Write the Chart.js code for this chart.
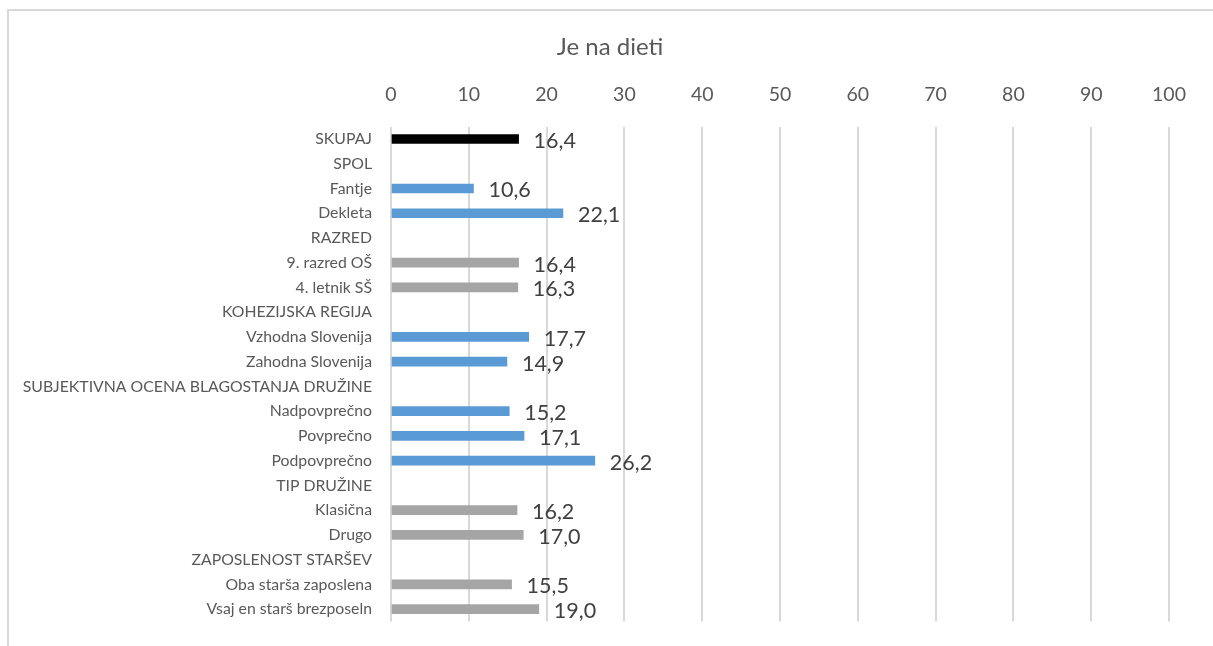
<!DOCTYPE html>
<html>
<head>
<meta charset="utf-8">
<script src="https://cdn.jsdelivr.net/npm/chart.js@4/dist/chart.umd.min.js"></script>
<style>
  html, body { margin: 0; padding: 0; background: #fff; overflow: hidden; }
  #wrap { position: relative; width: 1213px; height: 646px; overflow: hidden; }
  #frame { position: absolute; left: 7px; top: 9px; width: 1300px; height: 700px; border-left: 2px solid #d9d9d9; border-top: 2px solid #d9d9d9; box-sizing: border-box; }
  canvas { position: absolute; left: 0; top: 0; }
</style>
</head>
<body>
<div id="wrap">
  <div id="frame"></div>
  <canvas id="c" width="1213" height="650"></canvas>
</div>
<script>
const titleText = "Je na dieti";
const categories = [
  "SKUPAJ", "SPOL", "Fantje", "Dekleta", "RAZRED", "9. razred OŠ", "4. letnik SŠ",
  "KOHEZIJSKA REGIJA", "Vzhodna Slovenija", "Zahodna Slovenija",
  "SUBJEKTIVNA OCENA BLAGOSTANJA DRUŽINE", "Nadpovprečno", "Povprečno", "Podpovprečno",
  "TIP DRUŽINE", "Klasična", "Drugo", "ZAPOSLENOST STARŠEV", "Oba starša zaposlena", "Vsaj en starš brezposeln"
];
const values = [16.4, null, 10.6, 22.1, null, 16.4, 16.3, null, 17.7, 14.9, null, 15.2, 17.1, 26.2, null, 16.2, 17.0, null, 15.5, 19.0];
const groupOfBar = ["total", "", "blue", "blue", "", "gray", "gray", "", "blue", "blue", "", "blue", "blue", "blue", "", "gray", "gray", "", "gray", "gray"];
const palette = { total: "#000000", blue: "#5B9BD5", gray: "#A5A5A5", "": "#A5A5A5" };
const xTicks = [0, 10, 20, 30, 40, 50, 60, 70, 80, 90, 100];

const FONT = "Lato, 'Open Sans', sans-serif";

const valueLabels = {
  id: 'valueLabels',
  afterDatasetsDraw(chart) {
    const ctx = chart.ctx;
    const meta = chart.getDatasetMeta(0);
    ctx.save();
    ctx.font = "21.5px " + FONT;
    ctx.fillStyle = "#404040";
    ctx.textAlign = "left";
    ctx.textBaseline = "middle";
    meta.data.forEach((bar, i) => {
      const v = values[i];
      if (v === null || v === undefined) return;
      ctx.fillText(v.toFixed(1).replace('.', ','), bar.x + 15, bar.y + 2);
    });
    ctx.restore();
  }
};

const chartTitle = {
  id: 'chartTitle',
  afterDraw(chart) {
    const ctx = chart.ctx;
    ctx.save();
    ctx.font = "24px " + FONT;
    ctx.fillStyle = "#595959";
    ctx.textAlign = "center";
    ctx.textBaseline = "middle";
    ctx.fillText(titleText, 610, 47);
    ctx.restore();
  }
};

new Chart(document.getElementById('c'), {
  type: 'bar',
  data: {
    labels: categories,
    datasets: [{
      data: values,
      backgroundColor: groupOfBar.map(g => palette[g]),
      barThickness: 9,
      borderWidth: 0
    }]
  },
  options: {
    indexAxis: 'y',
    responsive: false,
    animation: false,
    devicePixelRatio: 1,
    layout: { padding: { left: 0, right: 44, top: 63.2, bottom: 10 } },
    plugins: {
      legend: { display: false },
      tooltip: { enabled: false },
      title: { display: false }
    },
    scales: {
      x: {
        position: 'top',
        min: 0, max: 100,
        afterBuildTicks(scale) { scale.ticks = xTicks.map(v => ({ value: v })); },
        ticks: { color: "#595959", font: { family: FONT, size: 19.5 }, padding: 20 },
        grid: { color: "#d9d9d9", lineWidth: 2, drawTicks: false },
        border: { display: false }
      },
      y: {
        ticks: { color: "#595959", font: { family: FONT, size: 15.8 }, padding: 19, autoSkip: false },
        grid: { display: false, drawTicks: false },
        border: { display: false },
        afterFit(scale) { scale.width = 391; }
      }
    }
  },
  plugins: [valueLabels, chartTitle]
});
</script>
</body>
</html>
